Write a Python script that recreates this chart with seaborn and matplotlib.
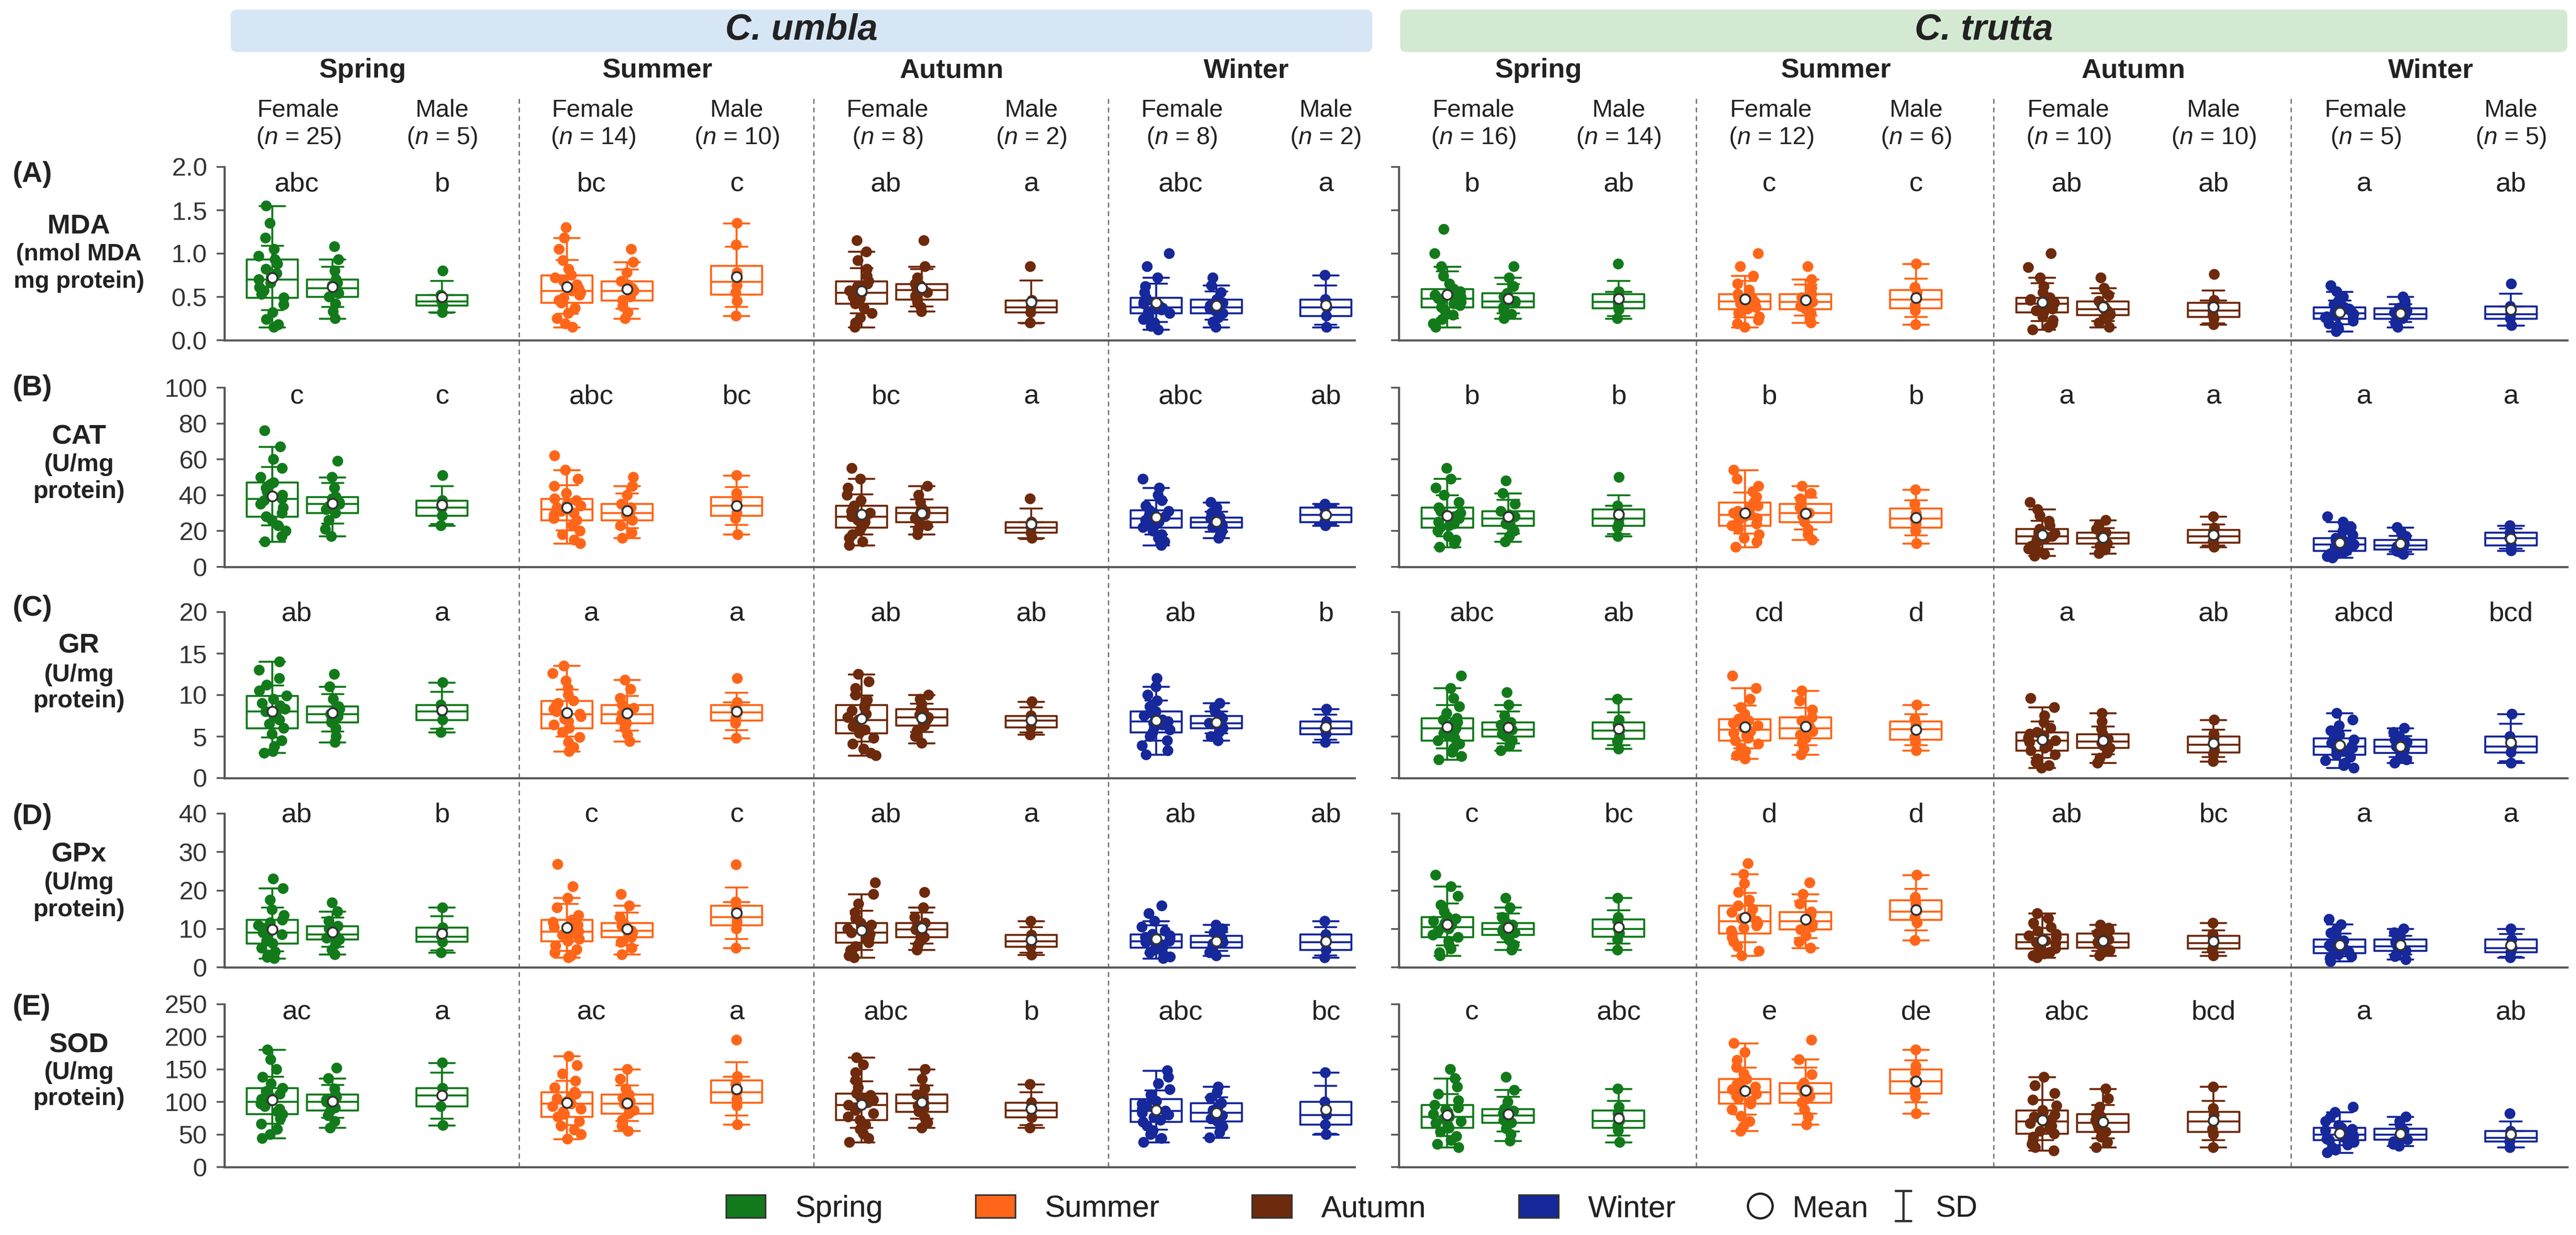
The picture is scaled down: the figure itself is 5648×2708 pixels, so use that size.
import numpy as np
import pandas as pd
import matplotlib.pyplot as plt
import seaborn as sns
from matplotlib.patches import Patch, FancyBboxPatch
from matplotlib.lines import Line2D
from matplotlib.ticker import FormatStrFormatter

SEASONS = ["Spring", "Summer", "Autumn", "Winter"]
SEASON_COLORS = ["#137a1b", "#ff6619", "#6e2a0c", "#16289a"]
GROUPS = ["F1", "F2", "M"]  # two female boxes and one male box per season
ENZYMES = ["MDA", "CAT", "GR", "GPx", "SOD"]
PANEL_TAGS = ["(A)", "(B)", "(C)", "(D)", "(E)"]
UNITS = [["(nmol MDA", "mg protein)"], ["(U/mg", "protein)"], ["(U/mg", "protein)"],
         ["(U/mg", "protein)"], ["(U/mg", "protein)"]]
Y_MAX = [2.0, 100, 20, 40, 250]
Y_STEP = [0.5, 20, 5, 10, 50]

UMBLA_N_FEMALE = [25, 14, 8, 8]
UMBLA_N_MALE = [5, 10, 2, 2]
TRUTTA_N_FEMALE = [16, 12, 10, 5]
TRUTTA_N_MALE = [14, 6, 10, 5]

# letters: per season (female, male)
UMBLA_LETTERS = [
    ["abc", "b", "bc", "c", "ab", "a", "abc", "a"],
    ["c", "c", "abc", "bc", "bc", "a", "abc", "ab"],
    ["ab", "a", "a", "a", "ab", "ab", "ab", "b"],
    ["ab", "b", "c", "c", "ab", "a", "ab", "ab"],
    ["ac", "a", "ac", "a", "abc", "b", "abc", "bc"],
]
TRUTTA_LETTERS = [
    ["b", "ab", "c", "c", "ab", "ab", "a", "ab"],
    ["b", "b", "b", "b", "a", "a", "a", "a"],
    ["abc", "ab", "cd", "d", "a", "ab", "abcd", "bcd"],
    ["c", "bc", "d", "d", "ab", "bc", "a", "a"],
    ["c", "abc", "e", "de", "abc", "bcd", "a", "ab"],
]

# box order: Spring F1, F2, M, Summer F1, F2, M, Autumn ..., Winter ...
UMBLA_MDA = [
    [0.15, 0.18, 0.24, 0.32, 0.41, 0.49, 0.53, 0.57, 0.61, 0.66, 0.70, 0.73, 0.77, 0.82, 0.88, 0.93, 0.97, 1.05, 1.18, 1.35, 1.55],
    [0.25, 0.33, 0.42, 0.50, 0.54, 0.57, 0.60, 0.63, 0.66, 0.70, 0.80, 0.93, 1.08],
    [0.32, 0.40, 0.45, 0.52, 0.80],
    [0.15, 0.19, 0.25, 0.31, 0.37, 0.43, 0.46, 0.49, 0.52, 0.55, 0.57, 0.60, 0.64, 0.68, 0.72, 0.75, 0.82, 0.92, 1.05, 1.18, 1.30],
    [0.25, 0.32, 0.39, 0.46, 0.50, 0.54, 0.57, 0.60, 0.64, 0.68, 0.78, 0.90, 1.05],
    [0.28, 0.45, 0.55, 0.63, 0.72, 0.78, 1.10, 1.35],
    [0.15, 0.20, 0.26, 0.31, 0.37, 0.42, 0.45, 0.48, 0.50, 0.53, 0.55, 0.57, 0.60, 0.62, 0.65, 0.68, 0.74, 0.82, 0.92, 1.02, 1.15],
    [0.33, 0.38, 0.43, 0.47, 0.51, 0.55, 0.58, 0.60, 0.63, 0.65, 0.72, 0.85, 1.15],
    [0.20, 0.32, 0.38, 0.46, 0.85],
    [0.12, 0.16, 0.20, 0.24, 0.28, 0.31, 0.33, 0.35, 0.36, 0.37, 0.38, 0.40, 0.42, 0.44, 0.46, 0.49, 0.55, 0.62, 0.72, 0.85, 1.00],
    [0.15, 0.21, 0.26, 0.31, 0.34, 0.36, 0.38, 0.40, 0.43, 0.47, 0.55, 0.63, 0.72],
    [0.15, 0.28, 0.38, 0.47, 0.75],
]
UMBLA_CAT = [
    [14, 17, 20, 23, 26, 28, 30, 33, 35, 37, 38, 40, 42, 44, 46, 47, 50, 55, 60, 67, 76],
    [17, 21, 26, 30, 32, 34, 35, 36, 38, 39, 44, 50, 59],
    [23, 28.5, 33, 37, 51],
    [13, 15, 18, 20, 23, 26, 27, 29, 30, 31, 32, 33, 34, 35, 37, 38, 41, 45, 49, 54, 62],
    [16, 19, 23, 26, 28, 29, 30, 32, 33, 35, 40, 45, 50],
    [18, 27, 30, 34, 37, 41, 51],
    [12, 14, 16, 18, 20, 22, 24, 25, 26, 27, 28, 29, 30, 31, 33, 34, 37, 40, 44, 49, 55],
    [18, 21, 23, 25, 27, 29, 30, 31, 32, 33, 36, 40, 45],
    [16, 19, 22, 25, 38],
    [12, 14, 16, 18, 20, 22, 23, 24, 25, 26, 27, 28, 29, 30, 31, 31.5, 34, 37, 40, 44, 49],
    [16, 18, 20, 22, 23, 24, 25, 26, 27, 27.6, 30, 33, 36],
    [23, 25, 29, 33, 35],
]
UMBLA_GR = [
    [3, 3.2, 3.8, 4.5, 5.3, 6, 6.5, 7, 7.4, 7.7, 8, 8.3, 8.7, 9, 9.5, 9.9, 10.5, 11.2, 12, 13, 14],
    [4.3, 5, 6, 6.7, 7, 7.4, 7.7, 8, 8.3, 8.6, 9.5, 11, 12.5],
    [5.5, 7, 8, 8.8, 11.5],
    [3.2, 3.7, 4.3, 4.9, 5.5, 6, 6.4, 6.8, 7.1, 7.4, 7.7, 8, 8.3, 8.7, 9, 9.3, 10, 10.8, 11.7, 12.6, 13.5],
    [4.4, 5.2, 6, 6.6, 7, 7.4, 7.7, 8, 8.4, 8.8, 9.6, 10.7, 11.8],
    [4.8, 6.6, 7.2, 7.9, 8.5, 9.1, 12],
    [2.7, 3, 3.5, 4.1, 4.8, 5.4, 5.8, 6.2, 6.5, 6.8, 7, 7.3, 7.7, 8.1, 8.5, 8.8, 9.4, 10, 10.8, 11.6, 12.5],
    [4.2, 5, 5.7, 6.3, 6.6, 7, 7.3, 7.6, 8, 8.3, 8.9, 9.5, 10],
    [5.2, 6.1, 6.9, 7.5, 9.2],
    [2.8, 3.3, 3.9, 4.5, 5, 5.5, 5.8, 6.1, 6.4, 6.6, 6.8, 7, 7.2, 7.5, 7.8, 8, 8.6, 9.3, 10, 11, 12],
    [4.5, 5, 5.5, 6, 6.2, 6.4, 6.6, 6.9, 7.2, 7.5, 8, 8.5, 9],
    [4.3, 5.3, 6, 6.8, 8.3],
]
UMBLA_GPX = [
    [2.3, 2.6, 3.2, 4, 5, 6.2, 6.8, 7.4, 8, 8.5, 9, 9.6, 10.2, 10.9, 11.6, 12.3, 13.5, 15, 17.5, 20.5, 23],
    [3.3, 4.5, 6, 7.2, 7.6, 8.1, 8.6, 9.2, 10, 10.7, 12, 14.5, 16.8],
    [3.8, 6.6, 8, 10.3, 15.5],
    [2.5, 3, 3.8, 4.6, 5.6, 6.8, 7.3, 7.9, 8.4, 8.9, 9.3, 9.8, 10.4, 11, 11.7, 12.3, 13.5, 15.5, 18, 21, 26.8],
    [3.3, 5, 6.5, 7.8, 8.3, 8.9, 9.5, 10.1, 10.8, 11.5, 13, 16, 19],
    [5, 10, 11.8, 13, 15, 17, 26.7],
    [2.5, 3, 3.6, 4.4, 5.4, 6.4, 7, 7.6, 8.1, 8.6, 9, 9.5, 10, 10.5, 11, 11.5, 12.7, 14.2, 16.5, 19, 22],
    [4.5, 5.8, 6.8, 7.8, 8.5, 9.2, 9.8, 10.3, 10.9, 11.5, 13, 15.5, 19.5],
    [3.2, 5.3, 6.8, 8.4, 12],
    [2.3, 2.7, 3.2, 3.8, 4.5, 5.1, 5.5, 5.9, 6.2, 6.5, 6.8, 7.1, 7.4, 7.8, 8.2, 8.6, 9.4, 10.5, 12, 14, 16],
    [3, 3.8, 4.5, 5.1, 5.6, 6.1, 6.5, 7, 7.6, 8.2, 9, 10, 11],
    [2.5, 4.5, 6.5, 8.5, 12],
]
UMBLA_SOD = [
    [44, 50, 58, 66, 74, 81, 85, 89, 93, 97, 100, 104, 108, 112, 116, 121, 128, 138, 150, 165, 180],
    [60, 70, 79, 87, 91, 96, 100, 103, 107, 111, 120, 136, 152],
    [64, 93, 110, 121, 160],
    [43, 50, 57, 63, 70, 77, 81, 85, 89, 93, 97, 101, 105, 108, 112, 115, 122, 132, 143, 156, 170],
    [55, 63, 72, 82, 87, 92, 97, 101, 106, 111, 120, 135, 150],
    [65, 94, 104, 115, 127, 139, 195],
    [38, 44, 51, 58, 65, 72, 77, 82, 87, 91, 95, 99, 103, 107, 110, 113, 122, 133, 145, 157, 168],
    [60, 68, 76, 85, 90, 94, 98, 102, 106, 111, 120, 135, 150],
    [60, 76, 87, 99, 127],
    [38, 44, 50, 56, 63, 69, 72, 76, 80, 83, 86, 89, 93, 97, 101, 104, 111, 119, 128, 138, 148],
    [45, 53, 62, 70, 74, 79, 83, 87, 92, 98, 106, 115, 123],
    [50, 65, 80, 100, 145],
]

TRUTTA_MDA = [
    [0.15, 0.19, 0.24, 0.29, 0.34, 0.38, 0.40, 0.42, 0.44, 0.46, 0.48, 0.50, 0.52, 0.54, 0.56, 0.59, 0.65, 0.74, 0.85, 1.00, 1.28],
    [0.25, 0.30, 0.34, 0.38, 0.40, 0.43, 0.45, 0.47, 0.50, 0.54, 0.62, 0.72, 0.85],
    [0.25, 0.35, 0.39, 0.44, 0.50, 0.56, 0.88],
    [0.15, 0.19, 0.23, 0.27, 0.31, 0.36, 0.38, 0.40, 0.42, 0.44, 0.45, 0.46, 0.48, 0.50, 0.52, 0.53, 0.58, 0.65, 0.74, 0.85, 1.00],
    [0.20, 0.26, 0.31, 0.36, 0.39, 0.42, 0.44, 0.46, 0.49, 0.53, 0.60, 0.70, 0.85],
    [0.18, 0.34, 0.40, 0.47, 0.55, 0.61, 0.88],
    [0.12, 0.15, 0.19, 0.23, 0.27, 0.32, 0.34, 0.36, 0.38, 0.40, 0.42, 0.43, 0.44, 0.46, 0.47, 0.49, 0.55, 0.62, 0.72, 0.84, 1.00],
    [0.15, 0.20, 0.25, 0.29, 0.31, 0.34, 0.36, 0.38, 0.41, 0.45, 0.52, 0.60, 0.72],
    [0.18, 0.25, 0.29, 0.34, 0.40, 0.46, 0.76],
    [0.10, 0.13, 0.16, 0.19, 0.22, 0.25, 0.26, 0.27, 0.28, 0.30, 0.31, 0.32, 0.33, 0.35, 0.36, 0.38, 0.41, 0.45, 0.50, 0.56, 0.63],
    [0.15, 0.19, 0.22, 0.25, 0.27, 0.29, 0.30, 0.32, 0.34, 0.37, 0.41, 0.45, 0.50],
    [0.17, 0.25, 0.30, 0.39, 0.65],
]
TRUTTA_CAT = [
    [11, 13, 15, 17, 20, 22, 23, 24, 25, 26, 27, 28, 29, 30, 31, 33, 36, 40, 44, 49, 55],
    [14, 17, 20, 23, 24, 26, 27, 28, 29, 31, 35, 41, 48],
    [17, 22, 24, 27, 30, 34, 50],
    [11, 14, 16, 18, 21, 23, 24, 26, 27, 28, 29, 30, 31, 33, 34, 36, 39, 42, 45, 49, 54],
    [15, 18, 21, 25, 27, 28, 30, 31, 33, 35, 38, 41, 45],
    [13, 20, 24, 27, 30, 35, 43],
    [6, 7, 8.5, 10, 11.5, 13, 14, 15, 15.7, 16.4, 17, 17.7, 18.5, 19.3, 20.2, 21, 23, 25.5, 28.5, 32, 36],
    [7.5, 9.5, 11.5, 13, 14, 15, 16, 17, 18, 19, 21, 23.5, 26],
    [11, 13, 14.2, 17, 19.5, 21.7, 28],
    [5, 5.8, 6.6, 7.4, 8.2, 9, 9.7, 10.4, 11.1, 11.8, 12.5, 13.2, 13.9, 14.6, 15.3, 16, 17.8, 19.8, 22.2, 25, 28],
    [7, 7.8, 8.7, 9.6, 10.4, 11.2, 12, 13, 14, 15, 17, 19.5, 22],
    [9, 12, 16, 19, 23],
]
TRUTTA_GR = [
    [2.2, 2.6, 3.1, 3.6, 4.1, 4.5, 4.8, 5.1, 5.4, 5.7, 6, 6.2, 6.5, 6.7, 7, 7.2, 7.8, 8.6, 9.6, 10.8, 12.3],
    [3.3, 3.9, 4.5, 5, 5.3, 5.6, 5.8, 6.1, 6.4, 6.7, 7.5, 8.8, 10.3],
    [3.5, 4.4, 5, 5.7, 6.4, 7, 9.5],
    [2.3, 2.7, 3.2, 3.6, 4.1, 4.5, 4.8, 5.1, 5.4, 5.6, 5.8, 6.1, 6.3, 6.6, 6.9, 7.1, 7.7, 8.5, 9.5, 10.8, 12.3],
    [2.8, 3.5, 4.2, 4.8, 5.2, 5.6, 6, 6.4, 6.9, 7.3, 8.2, 9.3, 10.5],
    [3.3, 4.3, 4.9, 5.9, 6.5, 7.1, 8.8],
    [1.2, 1.5, 1.9, 2.3, 2.8, 3.3, 3.6, 3.9, 4.1, 4.3, 4.5, 4.7, 4.9, 5.1, 5.3, 5.5, 6, 6.7, 7.5, 8.5, 9.6],
    [1.8, 2.4, 3, 3.6, 3.9, 4.2, 4.4, 4.7, 5, 5.3, 5.9, 6.8, 7.8],
    [2, 2.9, 3.3, 4, 4.7, 5.3, 7],
    [1.2, 1.5, 1.8, 2.1, 2.5, 2.8, 3, 3.2, 3.4, 3.6, 3.8, 4, 4.2, 4.4, 4.6, 4.8, 5.2, 5.7, 6.3, 7, 7.8],
    [1.8, 2.2, 2.6, 3, 3.3, 3.5, 3.8, 4, 4.3, 4.6, 5, 5.5, 6],
    [1.8, 3.1, 3.8, 5, 7.7],
]
TRUTTA_GPX = [
    [3, 3.8, 4.8, 5.8, 6.8, 7.8, 8.4, 9, 9.5, 10, 10.5, 11, 11.5, 12, 12.6, 13.1, 14.5, 16.2, 18.5, 21, 24],
    [4.5, 5.8, 7.1, 8.4, 9, 9.5, 10, 10.5, 11, 11.5, 13, 15.5, 18],
    [4.5, 7.2, 8.8, 10, 12, 13, 18],
    [3, 4.2, 5.4, 6.6, 7.7, 8.8, 9.5, 10.2, 10.8, 11.4, 12, 12.7, 13.5, 14.3, 15.1, 16, 17.5, 19.5, 21.8, 24.2, 27],
    [5, 6.6, 8.2, 9.8, 10.5, 11.3, 12, 12.8, 13.6, 14.4, 16.5, 19, 22],
    [7, 11.6, 13, 14.5, 16.6, 18.2, 24],
    [2.5, 3, 3.5, 3.9, 4.4, 4.9, 5.2, 5.5, 5.8, 6.2, 6.5, 6.9, 7.3, 7.8, 8.2, 8.6, 9.4, 10.4, 11.5, 12.7, 14],
    [3, 3.7, 4.4, 5.1, 5.6, 6, 6.5, 7.2, 8, 8.8, 9.5, 10.2, 11],
    [3, 4.5, 5.3, 6.3, 7.8, 8.6, 11.5],
    [1.5, 2, 2.4, 2.8, 3.3, 3.7, 4, 4.4, 4.7, 5, 5.3, 5.7, 6.1, 6.5, 6.9, 7.2, 8, 8.9, 9.9, 11.1, 12.5],
    [2, 2.8, 3.6, 4.3, 4.7, 5.1, 5.5, 6, 6.6, 7.2, 8.1, 9, 10],
    [2.5, 3.9, 5, 7.2, 10],
]
TRUTTA_SOD = [
    [30, 35, 41, 47, 54, 60, 64, 67, 70, 74, 77, 81, 84, 88, 91, 95, 102, 112, 123, 136, 150],
    [40, 50, 59, 68, 72, 76, 79, 82, 86, 89, 100, 118, 138],
    [38, 56, 64, 71, 82, 92, 120],
    [55, 62, 70, 78, 88, 97, 101, 105, 109, 112, 115, 119, 123, 127, 131, 135, 143, 153, 164, 176, 190],
    [65, 77, 88, 99, 104, 108, 113, 118, 123, 129, 142, 165, 195],
    [82, 108, 118, 132, 145, 155, 180],
    [25, 30, 35, 40, 46, 51, 55, 59, 63, 67, 70, 73, 77, 80, 84, 87, 94, 103, 113, 125, 138],
    [30, 38, 46, 54, 59, 63, 68, 72, 77, 81, 92, 105, 120],
    [30, 50, 58, 70, 80, 90, 123],
    [22, 26, 30, 34, 38, 41, 43, 45, 47, 49, 50, 52, 54, 56, 58, 60, 64, 70, 76, 84, 92],
    [32, 35, 39, 42, 45, 47, 50, 53, 56, 59, 64, 70, 77],
    [30, 39, 45, 55, 82],
]

SPECIES = {
    "C. umbla": dict(panels=[UMBLA_MDA, UMBLA_CAT, UMBLA_GR, UMBLA_GPX, UMBLA_SOD],
                     letters=UMBLA_LETTERS, nf=UMBLA_N_FEMALE, nm=UMBLA_N_MALE),
    "C. trutta": dict(panels=[TRUTTA_MDA, TRUTTA_CAT, TRUTTA_GR, TRUTTA_GPX, TRUTTA_SOD],
                      letters=TRUTTA_LETTERS, nf=TRUTTA_N_FEMALE, nm=TRUTTA_N_MALE),
}

# ---- long table ----
P = 4.9  # season period on x
OFFSET = {"F1": 0.8, "F2": 1.8, "M": 3.62}
records = []
for sp, info in SPECIES.items():
    for enz, boxes in zip(ENZYMES, info["panels"]):
        for i, vals in enumerate(boxes):
            s, g = divmod(i, 3)
            for v in vals:
                records.append((sp, enz, SEASONS[s], GROUPS[g], v))
df = pd.DataFrame(records, columns=["species", "enzyme", "season", "group", "value"])
df["pos"] = df["season"].map(SEASONS.index) * P + df["group"].map(OFFSET)

# ---- layout (pixels) ----
W, H, DPI = 5649, 2708, 300
ROW_Y = [(366, 746), (850, 1243), (1342, 1706), (1784, 2121), (2202, 2559)]
SP_X = {"C. umbla": (492, 2970), "C. trutta": (3067, 5629)}
SP_XMAX = {"C. umbla": 3 * P + 4.1, "C. trutta": 3 * P + 4.55}
LETTER_Y = [0.90, 0.95, 0.99, 0.99, 0.95]
TAG_Y = [383, 851, 1333, 1791, 2209]
NAME_Y = [496, 958, 1416, 1874, 2292]
UNIT_Y = [(558, 617), (1019, 1078), (1480, 1537), (1936, 1995), (2352, 2409)]
TXT = "#222222"
SPINE = "#555555"

sns.set_theme(style="ticks")
plt.rcParams["font.family"] = ["Liberation Sans", "DejaVu Sans"]
plt.rcParams["mathtext.fontset"] = "custom"
plt.rcParams["mathtext.rm"] = "Liberation Sans"
plt.rcParams["mathtext.it"] = "Liberation Sans:italic"

np.random.seed(3)
fig = plt.figure(figsize=(W / DPI, H / DPI), dpi=DPI)


def px_axes(x0, x1, y0, y1):
    return fig.add_axes([x0 / W, 1 - y1 / H, (x1 - x0) / W, (y1 - y0) / H])


def ftext(x, y, s, **kw):
    fig.text(x / W, 1 - y / H, s, color=TXT, **kw)


for sp, info in SPECIES.items():
    x0, x1 = SP_X[sp]
    xmax = SP_XMAX[sp]

    # dashed season separators through all rows
    ov = px_axes(x0, x1, 216, 2559)
    ov.set_axis_off()
    ov.set_xlim(0, xmax)
    ov.set_ylim(0, 1)
    for s in range(1, 4):
        ov.axvline(s * P, color="#6a6a6a", lw=0.65, ls=(0, (4, 3)))

    # banner
    bcol = "#d6e6f5" if sp == "C. umbla" else "#d4e9d2"
    bx0 = 506 if sp == "C. umbla" else 3070
    bx1 = 3009 if sp == "C. umbla" else 5629
    banner = FancyBboxPatch((bx0, H - 114), bx1 - bx0, 93,
                            boxstyle="round,pad=0,rounding_size=14",
                            facecolor=bcol, edgecolor="none", transform=None)
    fig.add_artist(banner)
    ftext((bx0 + bx1) / 2, 66, sp, fontsize=19, fontweight="bold", style="italic",
          ha="center", va="center")

    for r, enz in enumerate(ENZYMES):
        y0, y1 = ROW_Y[r]
        ax = px_axes(x0, x1, y0, y1)
        ax.set_facecolor("none")
        sub = df[(df["species"] == sp) & (df["enzyme"] == enz)]

        sns.boxplot(data=sub, x="pos", y="value", hue="season", hue_order=SEASONS,
                    palette=SEASON_COLORS, native_scale=True, dodge=False, fill=False,
                    width=0.85, linewidth=1.05, showfliers=False, legend=False, ax=ax)
        for g, jit in [("F1", 0.24), ("F2", 0.12), ("M", 0.02)]:
            sns.stripplot(data=sub[sub["group"] == g], x="pos", y="value", hue="season",
                          hue_order=SEASONS, palette=SEASON_COLORS, native_scale=True,
                          dodge=False, jitter=jit / P, size=5.7, linewidth=0,
                          legend=False, ax=ax, zorder=3)
        sns.pointplot(data=sub, x="pos", y="value", hue="season", hue_order=SEASONS,
                      palette=SEASON_COLORS, native_scale=True, dodge=False,
                      errorbar="sd", capsize=0.36, linestyle="none", markersize=0,
                      err_kws={"linewidth": 1.0, "zorder": 4}, legend=False, ax=ax)
        sns.pointplot(data=sub, x="pos", y="value", native_scale=True, errorbar=None,
                      linestyle="none", marker="o", color="white",
                      markeredgecolor="#333333", markeredgewidth=1.0, markersize=5.2,
                      ax=ax, zorder=6)

        ax.set_xlim(0, xmax)
        ax.set_ylim(0, Y_MAX[r])
        ax.set_yticks(np.arange(0, Y_MAX[r] + Y_STEP[r] / 2, Y_STEP[r]))
        if enz == "MDA":
            ax.yaxis.set_major_formatter(FormatStrFormatter("%.1f"))
        ax.set_xticks([])
        ax.set_xlabel("")
        ax.set_ylabel("")
        sns.despine(ax=ax)
        for side in ["left", "bottom"]:
            ax.spines[side].set_color(SPINE)
            ax.spines[side].set_linewidth(1.1)
        ax.tick_params(axis="y", length=4, width=0.9, color=SPINE, labelsize=13.5,
                       labelcolor="#333333", pad=5)
        if sp == "C. trutta":
            ax.tick_params(axis="y", labelleft=False)

        # significance letters
        for s in range(4):
            ax.text(s * P + 1.2, LETTER_Y[r], info["letters"][r][2 * s],
                    transform=ax.get_xaxis_transform(), ha="center", va="center",
                    fontsize=14.5, color=TXT)
            ax.text(s * P + 3.62, LETTER_Y[r], info["letters"][r][2 * s + 1],
                    transform=ax.get_xaxis_transform(), ha="center", va="center",
                    fontsize=14.5, color=TXT)

        if r == 0:
            h = y1 - y0
            tr = ax.get_xaxis_transform()
            for s, season in enumerate(SEASONS):
                def fy(ypx):
                    return (y1 - ypx) / h
                ax.text(s * P + 2.3, fy(155), season, transform=tr,
                        ha="center", va="center", fontsize=14.5, fontweight="bold", color=TXT)
                ax.text(s * P + 1.23, fy(242), "Female", transform=tr,
                        ha="center", va="center", fontsize=13, color=TXT)
                ax.text(s * P + 1.23, fy(302), r"($\it{n}$ = %d)" % info["nf"][s],
                        transform=tr, ha="center", va="center", fontsize=13, color=TXT)
                ax.text(s * P + 3.62, fy(242), "Male", transform=tr,
                        ha="center", va="center", fontsize=13, color=TXT)
                ax.text(s * P + 3.62, fy(302), r"($\it{n}$ = %d)" % info["nm"][s],
                        transform=tr, ha="center", va="center", fontsize=13, color=TXT)

# row labels on the left
for r, enz in enumerate(ENZYMES):
    ftext(28, TAG_Y[r], PANEL_TAGS[r], fontsize=15, fontweight="bold", ha="left", va="center")
    ftext(173, NAME_Y[r], enz, fontsize=14.5, fontweight="bold", ha="center", va="center")
    for line, yy in zip(UNITS[r], UNIT_Y[r]):
        ftext(173, yy, line, fontsize=12.5 if r == 0 else 13, fontweight="bold",
              ha="center", va="center")

# legends: seasons, then mean / SD
ax_dummy = fig.add_axes([0, 0, 0.01, 0.01])
ax_dummy.set_axis_off()
sd_handle = ax_dummy.errorbar([5], [5], yerr=[1], fmt="none", ecolor="#333333",
                              elinewidth=1.2, capsize=4.5, capthick=1.2)
ax_dummy.set_xlim(0, 1)
ax_dummy.set_ylim(0, 1)

LEG_Y = 1 - 2651 / H
season_handles = [Patch(facecolor=c, edgecolor="#333333", linewidth=0.8) for c in SEASON_COLORS]
leg1 = fig.legend(season_handles, SEASONS, loc="center left",
                  bbox_to_anchor=(1565 / W, LEG_Y), borderaxespad=0,
                  ncol=4, frameon=False, fontsize=16, handlelength=1.3, handleheight=0.78,
                  handletextpad=0.97, columnspacing=3.05, labelcolor=TXT)

mean_handle = Line2D([], [], marker="o", linestyle="none", markerfacecolor="white",
                     markeredgecolor="#222222", markeredgewidth=1.2, markersize=13)
fig.legend([mean_handle, sd_handle], ["Mean", "SD"], loc="center left",
           bbox_to_anchor=(3796 / W, LEG_Y), borderaxespad=0,
           ncol=2, frameon=False, fontsize=16, handlelength=1.1, handleheight=0.78,
           handletextpad=0.5, columnspacing=0.6, labelcolor=TXT)
fig.add_artist(leg1)

fig.savefig("out.png", dpi=DPI)
